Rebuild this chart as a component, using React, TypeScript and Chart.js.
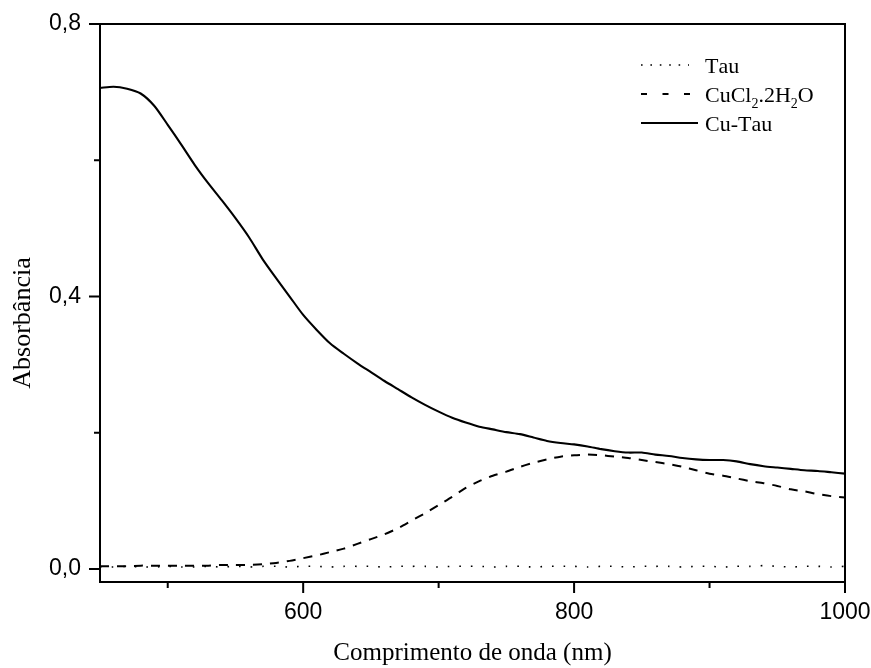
import React, { useEffect, useRef } from "react";
import { Chart, registerables } from "chart.js";

Chart.register(...registerables);

// ---------- data ----------
const wavelengths = [
  450, 460, 470, 480, 490, 500, 510, 520, 530, 540,
  550, 560, 570, 580, 590, 600, 610, 620, 630, 640,
  650, 660, 670, 680, 690, 700, 710, 720, 730, 740,
  750, 760, 770, 780, 790, 800, 810, 820, 830, 840,
  850, 860, 870, 880, 890, 900, 910, 920, 930, 940,
  950, 960, 970, 980, 990, 1000,
];

const tau = [
  0.003, 0.003, 0.004, 0.003, 0.003, 0.004, 0.003, 0.003, 0.004, 0.003,
  0.004, 0.003, 0.004, 0.004, 0.003, 0.004, 0.004, 0.003, 0.004, 0.004,
  0.004, 0.003, 0.004, 0.004, 0.004, 0.003, 0.004, 0.004, 0.004, 0.003,
  0.004, 0.004, 0.003, 0.004, 0.004, 0.004, 0.003, 0.004, 0.004, 0.003,
  0.004, 0.004, 0.004, 0.003, 0.004, 0.004, 0.003, 0.004, 0.004, 0.005,
  0.004, 0.003, 0.004, 0.004, 0.003, 0.004,
];

const cucl2 = [
  0.004, 0.004, 0.004, 0.005, 0.005, 0.005, 0.005, 0.005, 0.005, 0.006,
  0.006, 0.006, 0.007, 0.009, 0.012, 0.016, 0.020, 0.025, 0.030, 0.037,
  0.044, 0.051, 0.060, 0.071, 0.082, 0.094, 0.106, 0.119, 0.129, 0.137,
  0.143, 0.150, 0.156, 0.161, 0.165, 0.167, 0.168, 0.167, 0.165, 0.163,
  0.160, 0.157, 0.154, 0.150, 0.145, 0.140, 0.137, 0.133, 0.129, 0.126,
  0.122, 0.117, 0.114, 0.110, 0.107, 0.105,
];

const cuTau = [
  0.706, 0.708, 0.705, 0.698, 0.680, 0.652, 0.623, 0.593, 0.566, 0.541,
  0.515, 0.487, 0.455, 0.427, 0.400, 0.373, 0.351, 0.331, 0.316, 0.302,
  0.289, 0.276, 0.264, 0.252, 0.241, 0.231, 0.222, 0.215, 0.209, 0.205,
  0.201, 0.198, 0.193, 0.188, 0.185, 0.183, 0.180, 0.176, 0.173, 0.171,
  0.171, 0.168, 0.166, 0.163, 0.161, 0.160, 0.160, 0.158, 0.154, 0.151,
  0.149, 0.147, 0.145, 0.144, 0.142, 0.140,
];

// legend labels: "_" marks the next character as a subscript
const seriesLabels = ["Tau", "CuCl_2.2H_2O", "Cu-Tau"];

const xMajorTicks = [600, 800, 1000];
const xMinorTicks = [500, 700, 900];
const xTickLabels = ["600", "800", "1000"];
const yMajorTicks = [0, 0.4, 0.8];
const yMinorTicks = [0.2, 0.6];
const yTickLabels = ["0,0", "0,4", "0,8"];

const xTitle = "Comprimento de onda (nm)";
const yTitle = "Absorbância";

const X_MIN = 450;
const X_MAX = 1000;
const Y_MIN = -0.019;
const Y_MAX = 0.8;

// ---------- styles ----------
const SANS = '"Liberation Sans", Arial, sans-serif';
const SERIF = '"Liberation Serif", "Times New Roman", serif';
const curveDashes = [[1.6, 10], [9, 8], []];
const curveWidths = [1.6, 2, 2.1];
const legendDashes = [[1.6, 7.8], [6, 15.5], []];
const legendLens = [48, 49, 57];

const framePlugin = {
  id: "frameTicks",
  afterDraw(chart: any) {
    const { ctx, chartArea } = chart;
    const { left, right, top, bottom } = chartArea;
    const xs = chart.scales.x;
    const ys = chart.scales.y;
    ctx.save();
    ctx.strokeStyle = "#000";
    ctx.lineWidth = 2;
    ctx.setLineDash([]);
    ctx.strokeRect(left, top, right - left, bottom - top);
    ctx.beginPath();
    xMajorTicks.forEach((v) => {
      const px = xs.getPixelForValue(v);
      ctx.moveTo(px, bottom);
      ctx.lineTo(px, bottom + 11);
    });
    xMinorTicks.forEach((v) => {
      const px = xs.getPixelForValue(v);
      ctx.moveTo(px, bottom);
      ctx.lineTo(px, bottom + 6);
    });
    yMajorTicks.forEach((v) => {
      const py = ys.getPixelForValue(v);
      ctx.moveTo(left, py);
      ctx.lineTo(left - 11, py);
    });
    yMinorTicks.forEach((v) => {
      const py = ys.getPixelForValue(v);
      ctx.moveTo(left, py);
      ctx.lineTo(left - 6, py);
    });
    ctx.stroke();

    // y axis title
    ctx.fillStyle = "#000";
    ctx.font = `26px ${SERIF}`;
    ctx.textAlign = "center";
    ctx.textBaseline = "middle";
    ctx.translate(23, 323);
    ctx.rotate(-Math.PI / 2);
    ctx.fillText(yTitle, 0, 0);
    ctx.restore();
  },
};

function drawRich(ctx: CanvasRenderingContext2D, text: string, x: number, y: number) {
  let cx = x;
  let i = 0;
  while (i < text.length) {
    const ch = text[i];
    if (ch === "_" && i + 1 < text.length) {
      ctx.font = `14px ${SERIF}`;
      ctx.fillText(text[i + 1], cx, y + 6);
      cx += ctx.measureText(text[i + 1]).width;
      i += 2;
    } else {
      ctx.font = `22px ${SERIF}`;
      ctx.fillText(ch, cx, y);
      cx += ctx.measureText(ch).width;
      i += 1;
    }
  }
}

const legendPlugin = {
  id: "richLegend",
  afterDraw(chart: any) {
    const { ctx } = chart;
    const lineX = 641;
    const textX = 705;
    const baselines = [73, 102, 131];
    ctx.save();
    ctx.strokeStyle = "#000";
    ctx.fillStyle = "#000";
    ctx.textAlign = "left";
    ctx.textBaseline = "alphabetic";
    chart.data.datasets.forEach((ds: any, i: number) => {
      const by = baselines[i];
      ctx.lineWidth = curveWidths[i];
      ctx.setLineDash(legendDashes[i]);
      ctx.beginPath();
      ctx.moveTo(lineX, by - 8);
      ctx.lineTo(lineX + legendLens[i], by - 8);
      ctx.stroke();
      ctx.setLineDash([]);
      drawRich(ctx, ds.label, textX, by);
    });
    ctx.restore();
  },
};

export default function App() {
  const ref = useRef<HTMLCanvasElement>(null);

  useEffect(() => {
    const canvas = ref.current;
    if (!canvas) return;
    const series = [tau, cucl2, cuTau];
    const chart = new Chart(canvas, {
      type: "line",
      data: {
        datasets: series.map((vals, i) => ({
          label: seriesLabels[i],
          data: wavelengths.map((w, j) => ({ x: w, y: vals[j] })),
          borderColor: "#000",
          backgroundColor: "#000",
          borderWidth: curveWidths[i],
          borderDash: curveDashes[i],
          pointRadius: 0,
          tension: 0.25,
          fill: false,
        })),
      },
      options: {
        animation: false,
        responsive: false,
        devicePixelRatio: 1,
        layout: { padding: { left: 0, right: 26, top: 24, bottom: 0 } },
        plugins: {
          legend: { display: false },
          tooltip: { enabled: false },
        },
        scales: {
          x: {
            type: "linear",
            min: X_MIN,
            max: X_MAX,
            afterBuildTicks: (s: any) => {
              s.ticks = [...xMinorTicks, ...xMajorTicks]
                .sort((a, b) => a - b)
                .map((v) => ({ value: v }));
            },
            afterFit: (s: any) => {
              s.height = 86;
              s.paddingLeft = 0;
              s.paddingRight = 0;
              s.paddingTop = 0;
              s.paddingBottom = 0;
            },
            grid: { display: false, drawTicks: false },
            border: { display: false },
            ticks: {
              autoSkip: false,
              maxRotation: 0,
              padding: 17,
              color: "#000",
              font: { family: SANS, size: 23 },
              callback: (v: any) => {
                const k = xMajorTicks.indexOf(Number(v));
                return k >= 0 ? xTickLabels[k] : "";
              },
            },
            title: {
              display: true,
              text: xTitle,
              color: "#000",
              font: { family: SERIF, size: 25 },
              padding: { top: 0, bottom: 0 },
            },
          },
          y: {
            type: "linear",
            min: Y_MIN,
            max: Y_MAX,
            afterBuildTicks: (s: any) => {
              s.ticks = [...yMinorTicks, ...yMajorTicks]
                .sort((a, b) => a - b)
                .map((v) => ({ value: v }));
            },
            afterFit: (s: any) => {
              s.width = 100;
              s.paddingLeft = 0;
              s.paddingRight = 0;
              s.paddingTop = 0;
              s.paddingBottom = 0;
            },
            grid: { display: false, drawTicks: false },
            border: { display: false },
            ticks: {
              autoSkip: false,
              padding: 19,
              color: "#000",
              font: { family: SANS, size: 23 },
              callback: (v: any) => {
                const k = yMajorTicks.findIndex((t) => Math.abs(t - Number(v)) < 1e-9);
                return k >= 0 ? yTickLabels[k] : "";
              },
            },
          },
        },
      },
      plugins: [framePlugin, legendPlugin],
    } as any);
    return () => chart.destroy();
  }, []);

  return (
    <div
      style={{
        position: "fixed",
        left: 0,
        top: 0,
        width: 871,
        height: 668,
        background: "#fff",
      }}
    >
      <canvas ref={ref} width={871} height={668} style={{ display: "block", width: 871, height: 668 }} />
    </div>
  );
}
